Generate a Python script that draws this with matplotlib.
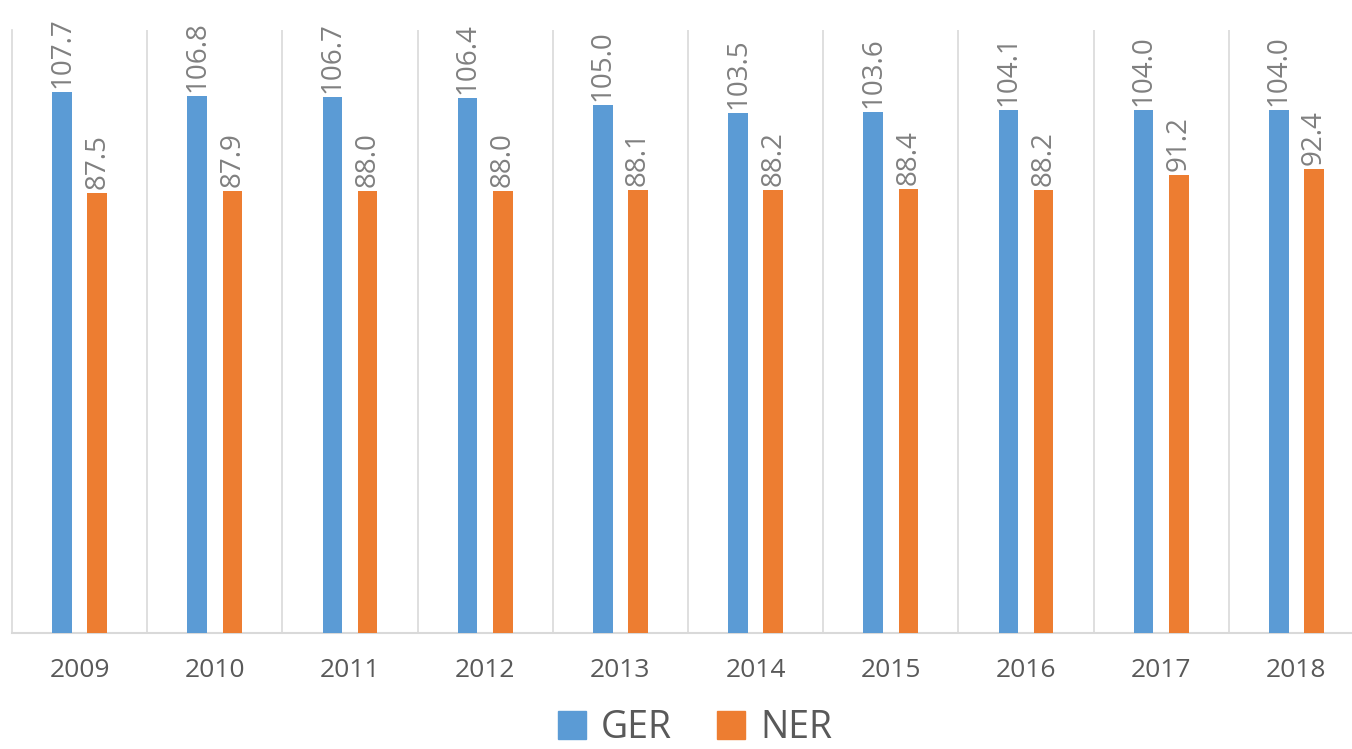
import matplotlib.pyplot as plt
import numpy as np
from matplotlib.patches import Patch

years = ['2009', '2010', '2011', '2012', '2013', '2014', '2015', '2016', '2017', '2018']
ger = [107.7, 106.8, 106.7, 106.4, 105.0, 103.5, 103.6, 104.1, 104.0, 104.0]
ner = [87.5, 87.9, 88.0, 88.0, 88.1, 88.2, 88.4, 88.2, 91.2, 92.4]

blue = '#5B9BD5'
orange = '#ED7D31'
grid_col = '#D9D9D9'

plt.rcParams['font.family'] = ['Open Sans', 'DejaVu Sans']

fig = plt.figure(figsize=(13.52, 7.49), dpi=100)
W, H = 1352, 749
left, right, top, bottom = 12, 1364, 30, 633
ax = fig.add_axes([left / W, 1 - bottom / H, (right - left) / W, (bottom - top) / H])

x = np.arange(len(years))
bw = 0.145
off = 0.13
ax.bar(x - off, ger, width=bw, color=blue, zorder=3)
ax.bar(x + off, ner, width=bw, color=orange, zorder=3)

for xi, v in zip(x - off, ger):
    ax.annotate(f'{v:.1f}', (xi, v), xytext=(0, 3), textcoords='offset points',
                rotation=90, ha='center', va='bottom', fontsize=20, color='#808080')
for xi, v in zip(x + off, ner):
    ax.annotate(f'{v:.1f}', (xi, v), xytext=(0, 3), textcoords='offset points',
                rotation=90, ha='center', va='bottom', fontsize=20, color='#808080')

ax.set_xlim(-0.5, len(years) - 0.5)
ax.set_ylim(0, 120)
ax.set_xticks(x)
ax.set_xticklabels(years, fontsize=19, color='#595959')
ax.set_xticks(x[:-1] + 0.5, minor=True)
ax.tick_params(axis='x', which='both', length=0, pad=18)
ax.set_yticks([])
ax.grid(True, which='minor', axis='x', color=grid_col, linewidth=1.2)
for s in ['top', 'right']:
    ax.spines[s].set_visible(False)
ax.spines['left'].set_color(grid_col)
ax.spines['bottom'].set_color(grid_col)
ax.spines['left'].set_linewidth(1.2)
ax.spines['bottom'].set_linewidth(1.5)

handles = [Patch(color=blue, label='GER'), Patch(color=orange, label='NER')]
fig.legend(handles=handles, loc='center', bbox_to_anchor=(695 / W, 1 - 728 / H),
           ncol=2, frameon=False, fontsize=27, handlelength=0.75, handleheight=0.75,
           handletextpad=0.4, columnspacing=1.2, labelcolor='#595959',
           borderpad=0.1)

fig.savefig('out.png', dpi=100)
